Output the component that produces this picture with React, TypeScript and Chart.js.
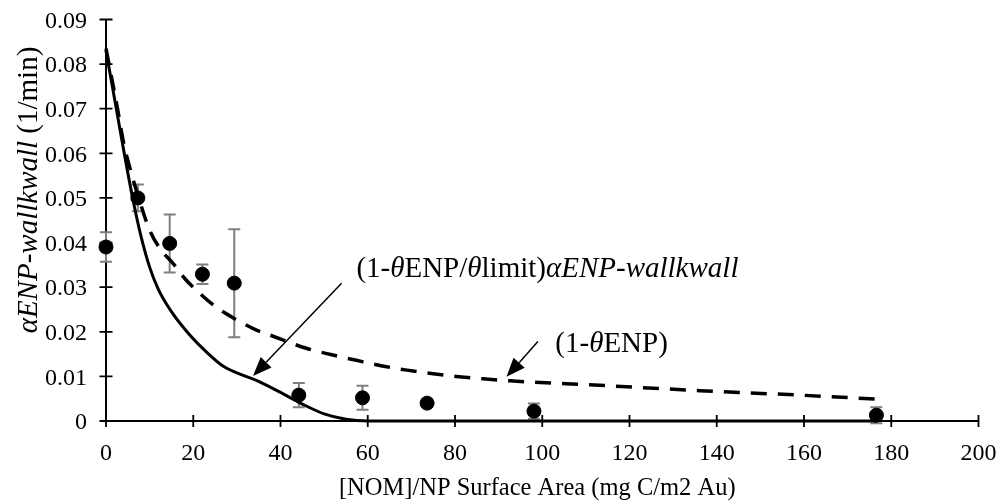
import { useEffect, useRef } from "react";
import { Chart, registerables } from "chart.js";

Chart.register(...registerables);

// Measured αENP-wall·kwall (1/min) against NOM loading per NP surface area
const nomLoading = [0, 7.3, 14.6, 22.1, 29.4, 44.2, 58.8, 73.6, 98.1, 176.6];
const attachRate = [0.039, 0.05, 0.0398, 0.0329, 0.0309, 0.0058, 0.0052, 0.004, 0.0022, 0.0013];
const attachRateErr = [0.0033, 0.003, 0.0065, 0.0022, 0.0121, 0.0027, 0.0027, 0, 0.0017, 0.0018];

// Model with surface coverage limit: (1-θENP/θlimit)·αENP-wall·kwall
const limitModelX = [0, 2, 4, 6, 8, 10, 12, 15, 19, 23, 27, 31, 35, 40, 45, 50, 55, 60, 80, 120, 176.6];
const limitModelY = [0.083, 0.072, 0.061, 0.0505, 0.0415, 0.0345, 0.0295, 0.0245, 0.0195, 0.0155, 0.0122, 0.0104, 0.0089, 0.0064, 0.0038, 0.0016, 0.0004, 0, 0, 0, 0];

// Model with simple blocking: (1-θENP)
const coverageModelX = [0, 2.7, 3.9, 5.4, 7.5, 10, 12.5, 15.4, 18, 21.5, 25, 29.9, 34, 38.3, 45.9, 51.5, 57.4, 63, 69, 75, 80.3, 86, 92.6, 113.2, 136.1, 159, 176.6];
const coverageModelY = [0.0835, 0.0697, 0.063, 0.057, 0.05, 0.0428, 0.0385, 0.0353, 0.032, 0.0286, 0.0257, 0.0227, 0.0206, 0.019, 0.0163, 0.0149, 0.0136, 0.0124, 0.0114, 0.0106, 0.01, 0.0095, 0.009, 0.008, 0.0068, 0.0058, 0.0049];

// Axis ticks
const xTickValues = [0, 20, 40, 60, 80, 100, 120, 140, 160, 180, 200];
const yTickValues = [0, 0.01, 0.02, 0.03, 0.04, 0.05, 0.06, 0.07, 0.08, 0.09];

const SERIF = '"Liberation Serif", "Times New Roman", serif';

type Part = { text: string; italic?: boolean };

const fontOf = (size: number, italic?: boolean) =>
  `${italic ? "italic " : ""}${size}px ${SERIF}`;

function richWidth(ctx: CanvasRenderingContext2D, parts: Part[], size: number) {
  let w = 0;
  for (const p of parts) {
    ctx.font = fontOf(size, p.italic);
    w += ctx.measureText(p.text).width;
  }
  return w;
}

function drawRich(
  ctx: CanvasRenderingContext2D,
  parts: Part[],
  x: number,
  y: number,
  size: number,
  align: "left" | "center" = "left"
) {
  const total = richWidth(ctx, parts, size);
  let cx = align === "center" ? x - total / 2 : x;
  ctx.textAlign = "left";
  ctx.textBaseline = "alphabetic";
  for (const p of parts) {
    ctx.font = fontOf(size, p.italic);
    ctx.fillText(p.text, cx, y);
    cx += ctx.measureText(p.text).width;
  }
}

function drawArrow(ctx: CanvasRenderingContext2D, x0: number, y0: number, x1: number, y1: number) {
  const ang = Math.atan2(y1 - y0, x1 - x0);
  const head = 19;
  const half = 7.5;
  const c = Math.cos(ang);
  const s = Math.sin(ang);
  const bx = x1 - head * c;
  const by = y1 - head * s;
  ctx.beginPath();
  ctx.moveTo(x0, y0);
  ctx.lineTo(bx, by);
  ctx.lineWidth = 1.5;
  ctx.strokeStyle = "#000";
  ctx.stroke();
  ctx.beginPath();
  ctx.moveTo(x1, y1);
  ctx.lineTo(bx + half * s, by - half * c);
  ctx.lineTo(bx - half * s, by + half * c);
  ctx.closePath();
  ctx.fillStyle = "#000";
  ctx.fill();
}

const limitLabel: Part[] = [
  { text: "(1-" },
  { text: "θ", italic: true },
  { text: "ENP/" },
  { text: "θ", italic: true },
  { text: "limit)" },
  { text: "αENP-wallkwall", italic: true },
];
const coverageLabel: Part[] = [{ text: "(1-" }, { text: "θ", italic: true }, { text: "ENP)" }];
const yTitle: Part[] = [{ text: "αENP-wallkwall", italic: true }, { text: " (1/min)" }];
const xTitle = "[NOM]/NP Surface Area (mg C/m2 Au)";

// Callouts placed in data units: text anchor (left, baseline), arrow tail and tip
const callouts = [
  { parts: limitLabel, tx: 57.4, ty: 0.0322, ax0: 54.0, ay0: 0.0309, ax1: 33.7, ay1: 0.0101 },
  { parts: coverageLabel, tx: 103.0, ty: 0.0155, ax0: 99.0, ay0: 0.0178, ax1: 91.8, ay1: 0.0099 },
];

const decorations = {
  id: "decorations",
  beforeDatasetsDraw(chart: any) {
    const { ctx, chartArea, scales } = chart;
    const xs = scales.x;
    const ys = scales.y;
    ctx.save();
    // axes
    ctx.strokeStyle = "#000";
    ctx.lineWidth = 2;
    ctx.beginPath();
    ctx.moveTo(chartArea.left, chartArea.top);
    ctx.lineTo(chartArea.left, chartArea.bottom);
    ctx.lineTo(chartArea.right, chartArea.bottom);
    ctx.stroke();
    // cross tick marks
    ctx.lineWidth = 1.8;
    ctx.beginPath();
    for (const v of yTickValues) {
      const py = ys.getPixelForValue(v);
      ctx.moveTo(chartArea.left - 6.5, py);
      ctx.lineTo(chartArea.left + 6.5, py);
    }
    for (const v of xTickValues) {
      const px = xs.getPixelForValue(v);
      ctx.moveTo(px, chartArea.bottom - 6);
      ctx.lineTo(px, chartArea.bottom + 6);
    }
    ctx.stroke();
    // error bars
    ctx.strokeStyle = "#7f7f7f";
    ctx.lineWidth = 2;
    ctx.beginPath();
    nomLoading.forEach((x, i) => {
      const e = attachRateErr[i];
      if (!e) return;
      const px = xs.getPixelForValue(x);
      const top = ys.getPixelForValue(attachRate[i] + e);
      const bot = ys.getPixelForValue(attachRate[i] - e);
      ctx.moveTo(px, top);
      ctx.lineTo(px, bot);
      ctx.moveTo(px - 6, top);
      ctx.lineTo(px + 6, top);
      ctx.moveTo(px - 6, bot);
      ctx.lineTo(px + 6, bot);
    });
    ctx.stroke();
    ctx.restore();
  },
  afterDraw(chart: any) {
    const { ctx, chartArea, scales } = chart;
    const xs = scales.x;
    const ys = scales.y;
    ctx.save();
    ctx.fillStyle = "#000";
    for (const c of callouts) {
      drawRich(ctx, c.parts, xs.getPixelForValue(c.tx), ys.getPixelForValue(c.ty), 29);
      drawArrow(
        ctx,
        xs.getPixelForValue(c.ax0),
        ys.getPixelForValue(c.ay0),
        xs.getPixelForValue(c.ax1),
        ys.getPixelForValue(c.ay1)
      );
    }
    // x title
    ctx.fillStyle = "#000";
    drawRich(ctx, [{ text: xTitle }], (chartArea.left + chartArea.right) / 2 - 5, 495, 24.5, "center");
    // y title
    ctx.translate(37, 190);
    ctx.rotate(-Math.PI / 2);
    drawRich(ctx, yTitle, 0, 0, 29, "center");
    ctx.restore();
  },
};

export default function App() {
  const canvasRef = useRef<HTMLCanvasElement | null>(null);

  useEffect(() => {
    document.body.style.margin = "0";
    const canvas = canvasRef.current;
    if (!canvas) return;

    const chart = new Chart(canvas, {
      type: "scatter",
      data: {
        datasets: [
          {
            label: "measured",
            data: nomLoading.map((x, i) => ({ x, y: attachRate[i] })),
            pointRadius: 7,
            pointBorderWidth: 1,
            pointBackgroundColor: "#000",
            pointBorderColor: "#000",
            showLine: false,
            clip: false,
            order: 0,
          },
          {
            label: "limit",
            data: limitModelX.map((x, i) => ({ x, y: limitModelY[i] })),
            showLine: true,
            pointRadius: 0,
            borderColor: "#000",
            borderWidth: 3,
            cubicInterpolationMode: "monotone",
            clip: false,
            order: 1,
          },
          {
            label: "coverage",
            data: coverageModelX.map((x, i) => ({ x, y: coverageModelY[i] })),
            showLine: true,
            pointRadius: 0,
            borderColor: "#000",
            borderWidth: 3.5,
            borderDash: [16, 11],
            cubicInterpolationMode: "monotone",
            clip: false,
            order: 2,
          },
        ] as any,
      },
      options: {
        animation: false,
        responsive: true,
        maintainAspectRatio: false,
        layout: { padding: { top: 19.5, right: 20.5, left: 0, bottom: 0 } },
        plugins: {
          legend: { display: false },
          tooltip: { enabled: false },
        },
        scales: {
          x: {
            type: "linear",
            min: 0,
            max: 200,
            grid: { display: false, drawTicks: false },
            border: { display: false },
            afterBuildTicks: (s: any) => {
              s.ticks = xTickValues.map((value) => ({ value }));
            },
            afterFit: (s: any) => {
              s.height = 83;
              s.paddingLeft = 0;
              s.paddingRight = 0;
            },
            ticks: {
              padding: 18,
              color: "#000",
              font: { family: SERIF, size: 24 },
              maxRotation: 0,
              autoSkip: false,
            },
          },
          y: {
            type: "linear",
            min: 0,
            max: 0.09,
            grid: { display: false, drawTicks: false },
            border: { display: false },
            afterBuildTicks: (s: any) => {
              s.ticks = yTickValues.map((value) => ({ value }));
            },
            afterFit: (s: any) => {
              s.width = 106;
              s.paddingTop = 0;
              s.paddingBottom = 0;
            },
            ticks: {
              padding: 19,
              labelOffset: 2,
              color: "#000",
              font: { family: SERIF, size: 24 },
              callback: (v: any) => (Number(v) === 0 ? "0" : Number(v).toFixed(2)),
              autoSkip: false,
            },
          },
        },
      },
      plugins: [decorations],
    });

    return () => chart.destroy();
  }, []);

  return (
    <div style={{ width: 999, height: 504, position: "relative" }}>
      <canvas ref={canvasRef} />
    </div>
  );
}
